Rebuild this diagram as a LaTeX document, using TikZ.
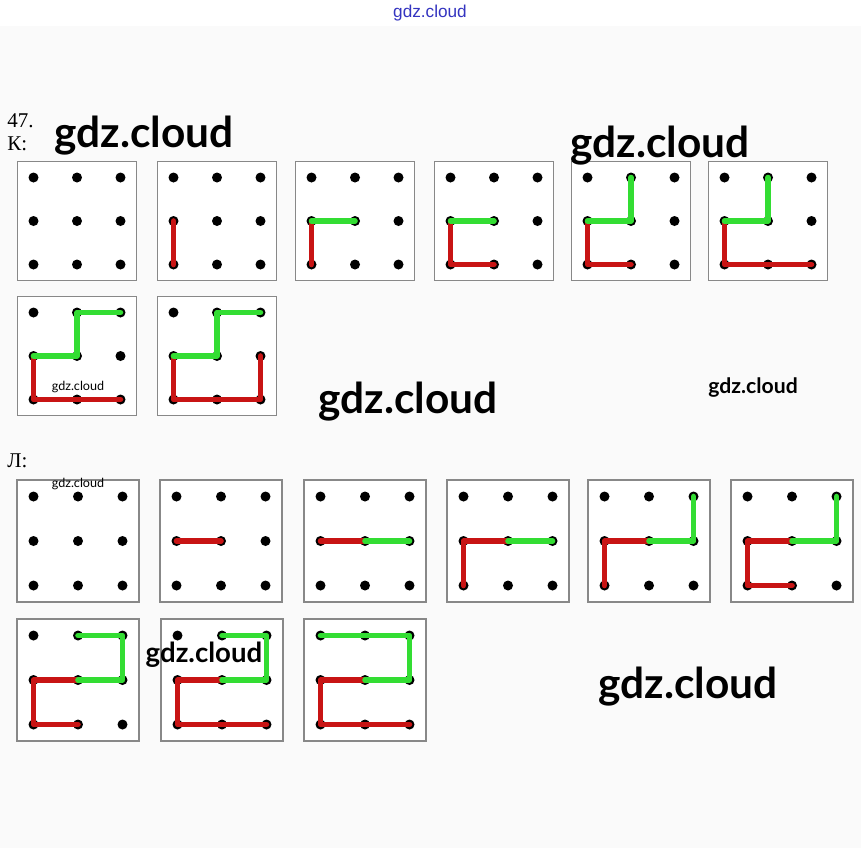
\documentclass[tikz,border=0pt]{standalone}
\usepackage{fontspec}
\setmainfont{Liberation Serif}
\newfontfamily\wmfont{Lato}
\newfontfamily\topfont{Liberation Sans}
\usetikzlibrary{positioning}
\definecolor{cRed}{HTML}{C81414}
\definecolor{cGreen}{HTML}{33DD33}
\definecolor{cFrame}{HTML}{888888}
\definecolor{cPaper}{HTML}{FAFAFA}
\definecolor{cMark}{HTML}{3434C0}
\tikzset{
  board/.style={draw=cFrame, line width=0.7pt, fill=white, inner sep=0pt,
                minimum width=#1, minimum height=#1},
  peg/.style={fill=black},
  pathRed/.style={draw=cRed, line width=2.8pt, line cap=round, line join=round},
  pathGreen/.style={draw=cGreen, line width=2.8pt, line cap=round, line join=round},
  lbl/.style={font=\fontsize{10.5pt}{11pt}\selectfont, anchor=base west, inner sep=0pt},
  wmBig/.style={font=\wmfont\bfseries\fontsize{21.2pt}{22pt}\selectfont, anchor=base, inner sep=0pt},
  wmMid/.style={font=\wmfont\bfseries\fontsize{10.6pt}{11pt}\selectfont, anchor=base, inner sep=0pt},
  wmSmall/.style={font=\wmfont\fontsize{6.3pt}{7pt}\selectfont, anchor=base, inner sep=0pt},
}

\begin{document}
\begin{tikzpicture}[x=0.5pt, y=-0.5pt]
\useasboundingbox (0,0) rectangle (861,848);
\fill[white] (0,0) rectangle (861,848);
\fill[cPaper] (0,26) rectangle (861,848);

\node[font=\topfont\fontsize{8.6pt}{9pt}\selectfont, text=cMark, anchor=base, inner sep=0pt]
  (site) at (430,17) {gdz.cloud};

% ========== TASK 47, PART K ==========
\node[lbl] (num) at (7,127) {47.};
\node[lbl] (partK) at (7,150) {К:};

\def\pitch{43.5}
\foreach \bx/\cx/\cy in {k1/77/221, k2/217/221, k3/355/221, k4/494/221,
                         k5/631/221, k6/768/221, k7/77/356, k8/217/356} {
  \node[board=59.5pt] (\bx) at (\cx,\cy) {};
  \foreach \c in {0,1,2}
    \foreach \r in {0,1,2} {
      \coordinate (\bx-\c-\r) at (\cx+\c*\pitch-\pitch, \cy+\r*\pitch-\pitch);
      \fill[peg] (\bx-\c-\r) circle (2.5pt);
    }
}

\draw[pathRed] (k2-0-1) -- (k2-0-2);

\draw[pathRed] (k3-0-2) -- (k3-0-1);
\draw[pathGreen] (k3-0-1) -- (k3-1-1);

\draw[pathRed] (k4-1-2) -- (k4-0-2) -- (k4-0-1);
\draw[pathGreen] (k4-0-1) -- (k4-1-1);

\draw[pathRed] (k5-1-2) -- (k5-0-2) -- (k5-0-1);
\draw[pathGreen] (k5-0-1) -- (k5-1-1) -- (k5-1-0);

\draw[pathRed] (k6-2-2) -- (k6-0-2) -- (k6-0-1);
\draw[pathGreen] (k6-0-1) -- (k6-1-1) -- (k6-1-0);

\draw[pathRed] (k7-2-2) -- (k7-0-2) -- (k7-0-1);
\draw[pathGreen] (k7-0-1) -- (k7-1-1) -- (k7-1-0) -- (k7-2-0);

\draw[pathRed] (k8-2-1) -- (k8-2-2) -- (k8-0-2) -- (k8-0-1);
\draw[pathGreen] (k8-0-1) -- (k8-1-1) -- (k8-1-0) -- (k8-2-0);

% ========== TASK 47, PART L ==========
\node[lbl] (partL) at (7,467) {Л:};

\def\pitch{44.5}
\foreach \bx/\cx/\cy in {l1/78/541, l2/221/541, l3/365/541, l4/508/541,
                         l5/649/541, l6/792/541, l7/78/680, l8/222/680, l9/365/680} {
  \node[board=61pt] (\bx) at (\cx,\cy) {};
  \foreach \c in {0,1,2}
    \foreach \r in {0,1,2} {
      \coordinate (\bx-\c-\r) at (\cx+\c*\pitch-\pitch, \cy+\r*\pitch-\pitch);
      \fill[peg] (\bx-\c-\r) circle (2.5pt);
    }
}

\draw[pathRed] (l2-0-1) -- (l2-1-1);

\draw[pathRed] (l3-0-1) -- (l3-1-1);
\draw[pathGreen] (l3-1-1) -- (l3-2-1);

\draw[pathRed] (l4-0-2) -- (l4-0-1) -- (l4-1-1);
\draw[pathGreen] (l4-1-1) -- (l4-2-1);

\draw[pathRed] (l5-0-2) -- (l5-0-1) -- (l5-1-1);
\draw[pathGreen] (l5-1-1) -- (l5-2-1) -- (l5-2-0);

\draw[pathRed] (l6-1-2) -- (l6-0-2) -- (l6-0-1) -- (l6-1-1);
\draw[pathGreen] (l6-1-1) -- (l6-2-1) -- (l6-2-0);

\draw[pathRed] (l7-1-2) -- (l7-0-2) -- (l7-0-1) -- (l7-1-1);
\draw[pathGreen] (l7-1-1) -- (l7-2-1) -- (l7-2-0) -- (l7-1-0);

\draw[pathRed] (l8-2-2) -- (l8-0-2) -- (l8-0-1) -- (l8-1-1);
\draw[pathGreen] (l8-1-1) -- (l8-2-1) -- (l8-2-0) -- (l8-1-0);

\draw[pathRed] (l9-2-2) -- (l9-0-2) -- (l9-0-1) -- (l9-1-1);
\draw[pathGreen] (l9-1-1) -- (l9-2-1) -- (l9-2-0) -- (l9-0-0);

% watermarks
\node[wmBig] (wm1) at (144,147) {gdz.cloud};
\node[wmBig] (wm2) at (660,157) {gdz.cloud};
\node[wmBig] (wm3) at (408,413) {gdz.cloud};
\node[wmBig] (wm4) at (688,698) {gdz.cloud};
\node[wmMid] (wm5) at (753,393) {gdz.cloud};
\node[wmSmall] (wm6) at (78,390) {gdz.cloud};
\node[wmSmall] (wm7) at (78,487) {gdz.cloud};
\node[wmBig, font=\wmfont\bfseries\fontsize{13.8pt}{15pt}\selectfont] (wm8) at (204,662) {gdz.cloud};

\end{tikzpicture}
\end{document}
